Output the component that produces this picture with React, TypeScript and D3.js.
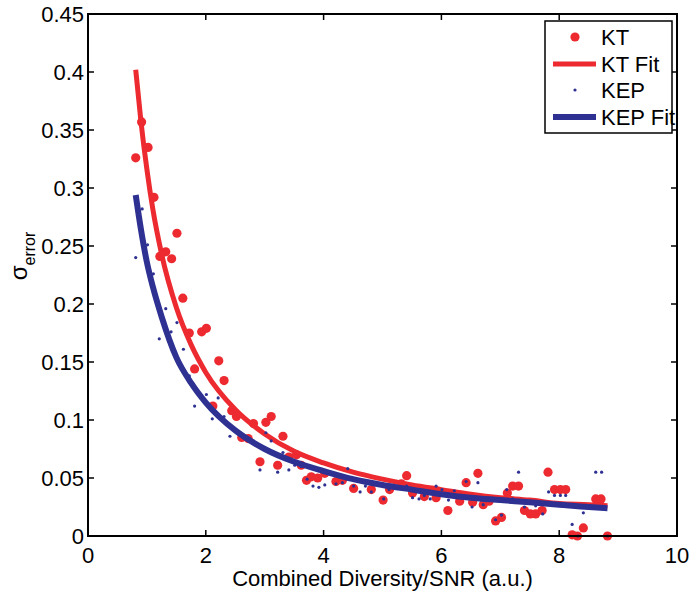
import React from "react";
import * as d3 from "d3";

const ktX = [0.81, 0.91, 1.02, 1.12, 1.22, 1.32, 1.42, 1.51, 1.61, 1.72, 1.81, 1.93, 2.01, 2.12, 2.22, 2.31, 2.44, 2.52, 2.61, 2.72, 2.81, 2.92, 3.02, 3.11, 3.22, 3.31, 3.41, 3.54, 3.62, 3.71, 3.79, 3.9, 4.02, 4.21, 4.32, 4.51, 4.81, 5.01, 5.12, 5.32, 5.41, 5.51, 5.71, 5.91, 6.11, 6.31, 6.42, 6.53, 6.62, 6.71, 6.81, 6.92, 7.02, 7.12, 7.21, 7.31, 7.41, 7.51, 7.6, 7.71, 7.81, 7.92, 8.02, 8.11, 8.22, 8.31, 8.41, 8.62, 8.71, 8.82];
const ktY = [0.326, 0.357, 0.335, 0.292, 0.241, 0.245, 0.239, 0.261, 0.205, 0.175, 0.144, 0.176, 0.179, 0.112, 0.151, 0.134, 0.108, 0.103, 0.085, 0.084, 0.097, 0.064, 0.098, 0.103, 0.061, 0.086, 0.068, 0.07, 0.061, 0.048, 0.051, 0.05, 0.054, 0.047, 0.048, 0.041, 0.04, 0.031, 0.04, 0.045, 0.052, 0.037, 0.034, 0.033, 0.022, 0.03, 0.046, 0.029, 0.054, 0.027, 0.03, 0.013, 0.016, 0.037, 0.043, 0.043, 0.022, 0.019, 0.019, 0.022, 0.055, 0.04, 0.04, 0.04, 0.001, 0.0, 0.007, 0.032, 0.032, 0.0];

const kepX = [0.81, 0.92, 1.01, 1.11, 1.21, 1.32, 1.41, 1.51, 1.62, 1.72, 1.81, 2.01, 2.11, 2.21, 2.31, 2.41, 2.81, 2.92, 3.02, 3.11, 3.22, 3.31, 3.41, 3.51, 3.62, 3.72, 3.82, 3.92, 4.02, 4.21, 4.32, 4.41, 4.51, 4.62, 4.71, 4.81, 5.02, 5.11, 5.41, 5.51, 5.62, 5.71, 5.81, 5.91, 6.01, 6.12, 6.22, 6.42, 6.52, 6.62, 6.71, 6.92, 7.02, 7.11, 7.21, 7.31, 7.41, 7.6, 7.72, 7.82, 7.92, 8.02, 8.11, 8.22, 8.32, 8.41, 8.62, 8.72, 8.82];
const kepY = [0.24, 0.282, 0.251, 0.226, 0.17, 0.196, 0.176, 0.184, 0.161, 0.138, 0.112, 0.122, 0.101, 0.119, 0.103, 0.086, 0.082, 0.057, 0.089, 0.082, 0.055, 0.072, 0.057, 0.061, 0.06, 0.049, 0.043, 0.042, 0.044, 0.045, 0.046, 0.058, 0.043, 0.038, 0.043, 0.038, 0.032, 0.04, 0.043, 0.033, 0.032, 0.035, 0.032, 0.043, 0.04, 0.031, 0.039, 0.047, 0.025, 0.046, 0.027, 0.014, 0.018, 0.04, 0.032, 0.055, 0.025, 0.026, 0.019, 0.038, 0.035, 0.035, 0.035, 0.01, 0.0, 0.02, 0.055, 0.055, 0.0];

const ktFitX = [0.81, 0.9, 1.0, 1.1, 1.25, 1.5, 1.75, 2.0, 2.5, 3.0, 3.5, 4.0, 4.5, 5.0, 5.5, 6.0, 6.5, 7.0, 7.5, 8.0, 8.5, 8.82];
const ktFitY = [0.402, 0.357, 0.316, 0.282, 0.243, 0.197, 0.165, 0.141, 0.109, 0.088, 0.073, 0.063, 0.055, 0.049, 0.044, 0.04, 0.036, 0.033, 0.031, 0.028, 0.027, 0.026];

const kepFitX = [0.81, 0.9, 1.0, 1.1, 1.25, 1.5, 1.75, 2.0, 2.5, 3.0, 3.5, 4.0, 4.5, 5.0, 5.5, 6.0, 6.5, 7.0, 7.5, 8.0, 8.5, 8.82];
const kepFitY = [0.294, 0.264, 0.236, 0.215, 0.189, 0.154, 0.132, 0.115, 0.091, 0.075, 0.064, 0.056, 0.049, 0.044, 0.04, 0.036, 0.033, 0.031, 0.029, 0.027, 0.025, 0.024];

const xTicks = [0, 2, 4, 6, 8, 10];
const yTicks = [0, 0.05, 0.1, 0.15, 0.2, 0.25, 0.3, 0.35, 0.4, 0.45];
const yTickLabels = ["0", "0.05", "0.1", "0.15", "0.2", "0.25", "0.3", "0.35", "0.4", "0.45"];
const legendLabels = ["KT", "KT Fit", "KEP", "KEP Fit"];
const xLabel = "Combined Diversity/SNR (a.u.)";

const RED = "#ec2a30";
const BLUE = "#2e3192";
const FONT = "'Liberation Sans', Arial, Helvetica, sans-serif";

export default function App() {
  const W = 690, H = 596;
  const L = 88, R = 677, T = 14, B = 536;
  const x = d3.scaleLinear().domain([0, 10]).range([L, R]);
  const y = d3.scaleLinear().domain([0, 0.45]).range([B, T]);
  const line = d3
    .line<[number, number]>()
    .x((d) => x(d[0]))
    .y((d) => y(d[1]))
    .curve(d3.curveMonotoneX);
  const ktFit = ktFitX.map((v, i) => [v, ktFitY[i]] as [number, number]);
  const kepFit = kepFitX.map((v, i) => [v, kepFitY[i]] as [number, number]);
  const tick = 6;

  const lg = { x0: 545, y0: 21, x1: 672, y1: 133 };
  const rows = [37, 64, 90, 117];

  return (
    <svg width={W} height={H} style={{ position: "absolute", left: 0, top: 0, background: "#fff" }} fontFamily={FONT}>
      <rect x={0} y={0} width={W} height={H} fill="#fff" />
      {ktX.map((v, i) => (
        <circle key={"kt" + i} cx={x(v)} cy={y(ktY[i])} r={4.6} fill={RED} />
      ))}
      <path d={line(ktFit) || ""} fill="none" stroke={RED} strokeWidth={5} />
      {kepX.map((v, i) => (
        <circle key={"kep" + i} cx={x(v)} cy={y(kepY[i])} r={1.6} fill={BLUE} />
      ))}
      <path d={line(kepFit) || ""} fill="none" stroke={BLUE} strokeWidth={6} />

      <rect x={L} y={T} width={R - L} height={B - T} fill="none" stroke="#000" strokeWidth={2} />
      {xTicks.map((t) => (
        <g key={"xt" + t}>
          <line x1={x(t)} x2={x(t)} y1={B} y2={B - tick} stroke="#000" strokeWidth={1.5} />
          <line x1={x(t)} x2={x(t)} y1={T} y2={T + tick} stroke="#000" strokeWidth={1.5} />
          <text x={x(t)} y={563} textAnchor="middle" fontSize={22} fill="#000">
            {t}
          </text>
        </g>
      ))}
      {yTicks.map((t, i) => (
        <g key={"yt" + i}>
          <line x1={L} x2={L + tick} y1={y(t)} y2={y(t)} stroke="#000" strokeWidth={1.5} />
          <line x1={R} x2={R - tick} y1={y(t)} y2={y(t)} stroke="#000" strokeWidth={1.5} />
          <text x={L - 4} y={y(t) + 8} textAnchor="end" fontSize={22} fill="#000">
            {yTickLabels[i]}
          </text>
        </g>
      ))}
      <text x={(L + R) / 2} y={586} textAnchor="middle" fontSize={22} fill="#000">
        {xLabel}
      </text>
      <text transform={`translate(27, 256) rotate(-90)`} textAnchor="middle" fontSize={24} fill="#000">
        σ
        <tspan fontSize={16} dy={8}>error</tspan>
      </text>

      <rect x={lg.x0} y={lg.y0} width={lg.x1 - lg.x0} height={lg.y1 - lg.y0} fill="#fff" stroke="#000" strokeWidth={1.5} />
      <circle cx={575} cy={rows[0]} r={4.6} fill={RED} />
      <line x1={553} x2={596} y1={rows[1]} y2={rows[1]} stroke={RED} strokeWidth={5} />
      <circle cx={575} cy={rows[2]} r={1.6} fill={BLUE} />
      <line x1={553} x2={596} y1={rows[3]} y2={rows[3]} stroke={BLUE} strokeWidth={6} />
      {legendLabels.map((s, i) => (
        <text key={s} x={601} y={rows[i] + 8} fontSize={22} fill="#000">
          {s}
        </text>
      ))}
    </svg>
  );
}
